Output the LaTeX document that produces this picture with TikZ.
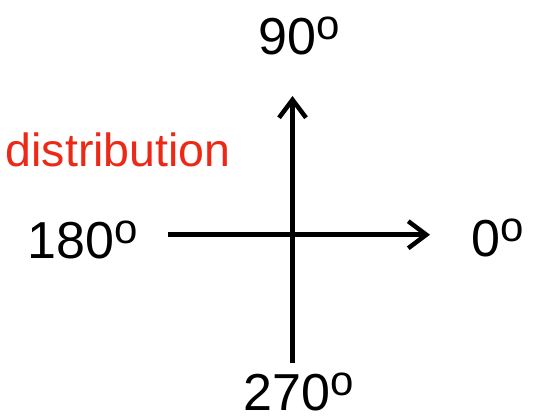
\documentclass[tikz,border=0pt]{standalone}
\usepackage{fontspec}
\setmainfont{Liberation Sans}
\usetikzlibrary{arrows.meta}
\definecolor{distred}{RGB}{236,40,22}
\newcommand{\dego}{\raisebox{15pt}{\fontsize{42}{42}\selectfont o}}

\begin{document}
\begin{tikzpicture}[x=1pt,y=1pt,>={Straight Barb[length=18pt,width=27pt]},
		axis/.style={line width=4.5pt},
		angle/.style={font=\fontsize{52}{60}\selectfont,inner sep=0pt,text depth=0pt,anchor=base}]
		\useasboundingbox (0,0) rectangle (548,415);
		
		% Axis ends
		\coordinate (west) at (168,180.3);
		\coordinate (east) at (430,180.3);
		\coordinate (south) at (292.5,52);
		\coordinate (north) at (292.5,319);
		
		% Axes
		\draw[axis,->] (west) -- (east);
		\draw[axis,->] (south) -- (north);
		
		% Angle labels
		\node[angle] (deg0) at (498,158) {0\dego};
		\node[angle] (deg90) at (299,360) {90\dego};
		\node[angle] (deg180) at (83,156.5) {180\dego};
		\node[angle] (deg270) at (298.5,4.5) {270\dego};
		
		\node[font=\fontsize{46.5}{56}\selectfont,text=distred,inner sep=0pt,anchor=base west] (distlabel) at (5.5,248) {distribution};
		
	\end{tikzpicture}
\end{document}
